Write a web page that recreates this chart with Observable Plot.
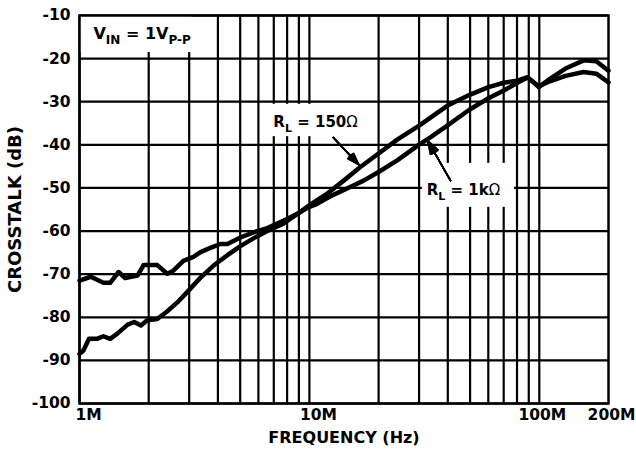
<!DOCTYPE html>
<html><head><meta charset="utf-8">
<script src="https://cdn.jsdelivr.net/npm/d3@7"></script>
<script src="https://cdn.jsdelivr.net/npm/@observablehq/plot@0.6"></script>
<style>body{margin:0;background:#fff} svg{display:block}</style>
</head><body><div id="chart"></div>
<script>
// ---- data (frequency in MHz, crosstalk in dB) ----
const freq1k = [1.00,1.12,1.27,1.36,1.48,1.58,1.79,1.90,2.18,2.41,2.56,2.83,3.13,3.36,3.71,4.10,4.40,5.01,5.71,6.56,7.70,8.87,9.80,10.7,12.7,14.9,17.2,20.0,24.1,29.9,33.7,39.9,49.8,60.1,70.1,80.3,88.9,99.5,112,130,156,177,200];
const db1k   = [-71.5,-70.6,-72.0,-72.0,-69.5,-70.9,-70.3,-67.9,-67.9,-69.9,-69.2,-66.9,-66.0,-64.9,-63.9,-63.0,-63.0,-61.5,-60.3,-59.3,-57.6,-56.0,-54.6,-53.8,-51.6,-49.9,-48.3,-46.3,-43.6,-40.0,-38.2,-35.5,-31.8,-29.2,-27.4,-25.6,-24.4,-26.4,-25.2,-24.0,-23.1,-23.5,-25.5];
const freq150 = [1.00,1.04,1.10,1.19,1.27,1.36,1.46,1.62,1.73,1.85,1.97,2.18,2.41,2.67,2.96,3.36,3.83,4.40,5.01,5.71,6.56,7.70,8.87,10.2,11.9,14.1,16.6,20.0,24.1,29.9,39.9,49.8,60.1,70.1,80.3,88.9,99.5,112,130,156,177,200];
const db150   = [-88.5,-87.7,-85.0,-85.0,-84.4,-85.0,-83.8,-81.7,-81.1,-81.9,-80.7,-80.4,-78.6,-76.5,-74.0,-70.8,-68.0,-65.6,-63.5,-61.7,-60.0,-58.3,-56.0,-53.7,-51.4,-48.3,-45.2,-42.0,-38.8,-35.6,-30.9,-28.4,-26.6,-25.6,-25.1,-24.3,-26.6,-24.6,-22.3,-20.4,-20.6,-22.8];

const xTickValues = [1, 10, 100, 200];
const xTickLabels = ["1M", "10M", "100M", "200M"];
const yTickValues = [-100, -90, -80, -70, -60, -50, -40, -30, -20, -10];
const gridFreqs = [1,2,3,4,5,6,7,8,9,10,20,30,40,50,60,70,80,90,100];
const xTitle = "FREQUENCY (Hz)";
const yTitle = "CROSSTALK (dB)";

// annotations: text parts (0 = normal, 1 = subscript, 2 = symbol)
const annotParts = [
  [["V",0],["IN",1],[" = 1",0],["V",0],["P-P",1]],
  [["R",0],["L",1],[" = 150",0],["Ω",2]],
  [["R",0],["L",1],[" = 1k",0],["Ω",2]]
];
const annotX = [1.15, 6.97, 32.4];
const annotY = [-14.2, -34.8, -50.6];
const annotSize = [16, 15, 15];
const boxX1 = [1, 6.3, 31], boxX2 = [3.1, 18.8, 78];
const boxY1 = [-10, -30.6, -44.3], boxY2 = [-18.6, -38.1, -54.5];
const arrowX1 = [12.7, 41.1], arrowY1 = [-38.3, -48.3];
const arrowX2 = [16.4, 32.7], arrowY2 = [-44.6, -39.0];
// several arrowhead wing angles overlaid give a solid head
const headAngles = [0, 5, 10, 15, 20, 25, 30, 35, 38];

// ---- tables ----
const s1k = freq1k.map((f, i) => ({f, db: db1k[i]}));
const s150 = freq150.map((f, i) => ({f, db: db150[i]}));
const boxes = boxX1.map((_, i) => ({x1: boxX1[i], x2: boxX2[i], y1: boxY1[i], y2: boxY2[i]}));
const arrows = arrowX1.map((_, i) => ({x1: arrowX1[i], y1: arrowY1[i], x2: arrowX2[i], y2: arrowY2[i]}));
const annots = annotParts.map((p, i) => ({x: annotX[i], y: annotY[i], text: p.map(d => d[0]).join(""), size: annotSize[i]}));
const xTicks = xTickValues.map((v, i) => ({v, label: xTickLabels[i]}));

const font = "DejaVu Sans";
const chart = Plot.plot({
  width: 636, height: 453,
  marginLeft: 79, marginTop: 15, marginRight: 28, marginBottom: 50,
  style: {fontFamily: font, background: "white", color: "black"},
  x: {type: "log", domain: [1, 200], axis: null},
  y: {domain: [-100, -10], axis: null},
  marks: [
    Plot.ruleX(gridFreqs, {stroke: "black", strokeWidth: 2.2}),
    Plot.ruleY(yTickValues, {stroke: "black", strokeWidth: 2.2}),
    Plot.rect(boxes, {x1: "x1", x2: "x2", y1: "y1", y2: "y2", fill: "white"}),
    Plot.frame({stroke: "black", strokeWidth: 2.5}),
    Plot.line(s1k, {x: "f", y: "db", stroke: "black", strokeWidth: 4.5, strokeLinejoin: "round"}),
    Plot.line(s150, {x: "f", y: "db", stroke: "black", strokeWidth: 4.5, strokeLinejoin: "round"}),
    ...headAngles.map(a => Plot.arrow(arrows, {x1: "x1", y1: "y1", x2: "x2", y2: "y2", stroke: "black", strokeWidth: 1.5, headAngle: a, headLength: 14})),
    Plot.text(annots, {x: "x", y: "y", text: "text", fontSize: "size", textAnchor: "start", fontWeight: "bold", fill: "black", ariaDescription: "annot"}),
    Plot.text(xTicks.slice(0, 2), {x: "v", text: "label", frameAnchor: "bottom", dy: 16, dx: 9, fontSize: 15.5, fontWeight: "bold", fill: "black"}),
    Plot.text(xTicks.slice(2), {x: "v", text: "label", frameAnchor: "bottom", dy: 16, dx: 3, fontSize: 15.5, fontWeight: "bold", fill: "black"}),
    Plot.text(yTickValues, {y: d => d, text: d => String(d), frameAnchor: "left", textAnchor: "end", dx: -9, fontSize: 15.5, fontWeight: "bold", fill: "black"}),
    Plot.text([xTitle], {frameAnchor: "bottom", textAnchor: "middle", dy: 39, fontSize: 16, fontWeight: "bold", fill: "black"}),
    Plot.text([yTitle], {frameAnchor: "left", textAnchor: "middle", dx: -64, rotate: -90, fontSize: 18, fontWeight: "bold", fill: "black"})
  ]
});
document.getElementById("chart").appendChild(chart);

// subscripts
d3.select(chart).selectAll('g[aria-description="annot"] text').each(function(_, i) {
  const el = d3.select(this);
  const size = annotSize[i];
  const sub = Math.round(size * 0.75);
  const shift = Math.round(size * 0.3);
  el.text("");
  let inSub = false;
  for (const [t, kind] of annotParts[i]) {
    const ts = el.append("tspan").text(t);
    if (kind === 1) {
      ts.attr("font-size", sub);
      if (!inSub) { ts.attr("dy", shift); inSub = true; }
    } else {
      if (inSub) { ts.attr("dy", -shift); inSub = false; }
      if (kind === 2) ts.attr("font-weight", "normal");
    }
  }
});
</script>
</body></html>
